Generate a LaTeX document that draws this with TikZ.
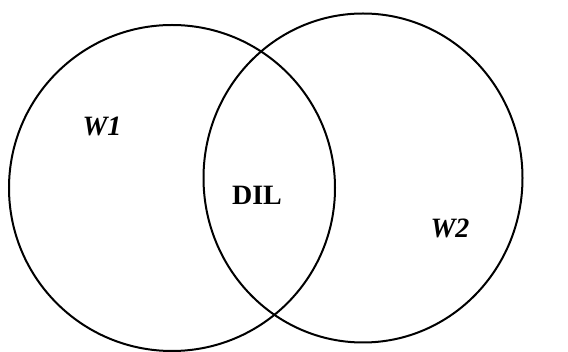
\documentclass[tikz,border=0pt]{standalone}
\usepackage{fontspec}
\setmainfont{Liberation Serif}
\usepackage{tikz}
\usetikzlibrary{positioning}

\tikzset{
    venn/.style={line width=2pt, black},
    setlabel/.style={font=\fontsize{28}{32}\selectfont\bfseries\itshape},
    commonlabel/.style={font=\fontsize{28}{32}\selectfont\bfseries}
}

\begin{document}
\begin{tikzpicture}[x=1pt,y=-1pt]
        \useasboundingbox (0,0) rectangle (568,352);

        % Sets
        \draw[venn] (172,188) ellipse (163pt and 163pt);
        \draw[venn] (363,178) ellipse (159.5pt and 164.5pt);

        % Labels
        \node[setlabel] (w1) at (102,126) {W1};
        \node[commonlabel] (dil) at (257,195) {DIL};
        \node[setlabel] (w2) at (450,228) {W2};
    \end{tikzpicture}
\end{document}
